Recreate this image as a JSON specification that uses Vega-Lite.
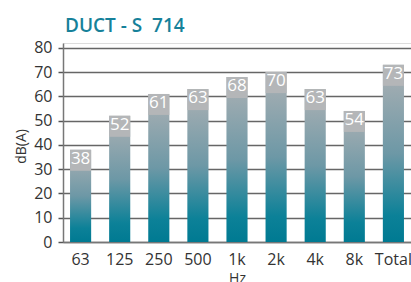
{
  "$schema": "https://vega.github.io/schema/vega-lite/v6.json",
  "autosize": "none",
  "width": 348,
  "height": 199,
  "padding": {"left": 63, "top": 43, "right": 0, "bottom": 40},
  "background": "white",
  "title": {
    "text": "DUCT - S\u00a0\u00a0714",
    "anchor": "start",
    "frame": "group",
    "dx": 2,
    "offset": 15,
    "dy": 26,
    "baseline": "alphabetic",
    "font": "Open Sans",
    "fontSize": 19,
    "fontWeight": 600,
    "color": "#16819a"
  },
  "data": {
    "values": [
      {"band": "63", "db": 38},
      {"band": "125", "db": 52},
      {"band": "250", "db": 61},
      {"band": "500", "db": 63},
      {"band": "1k", "db": 68},
      {"band": "2k", "db": 70},
      {"band": "4k", "db": 63},
      {"band": "8k", "db": 54},
      {"band": "Total", "db": 73}
    ]
  },
  "encoding": {
    "x": {
      "field": "band",
      "type": "nominal",
      "sort": null,
      "scale": {"paddingInner": 0.46, "paddingOuter": 0.18},
      "axis": {
        "title": "Hz",
        "labelAngle": 0,
        "labelFont": "Open Sans",
        "labelFontSize": 16,
        "labelColor": "#333333",
        "labelPadding": 9,
        "titleFont": "Open Sans",
        "titleFontSize": 14,
        "titleFontWeight": "normal",
        "titleColor": "#333333",
        "titlePadding": 4,
        "ticks": false,
        "domainColor": "#777777",
        "domainWidth": 1.5,
        "grid": false
      }
    },
    "y": {
      "field": "db",
      "type": "quantitative",
      "scale": {"domain": [0, 82], "nice": false},
      "axis": {
        "title": "dB(A)",
        "values": [0, 10, 20, 30, 40, 50, 60, 70, 80],
        "labelFont": "Open Sans",
        "labelFontSize": 16,
        "labelColor": "#333333",
        "labelPadding": 6,
        "tickSize": 5,
        "tickColor": "#555555",
        "tickWidth": 1.5,
        "domainColor": "#777777",
        "domainWidth": 1.5,
        "grid": true,
        "gridColor": "#666666",
        "gridWidth": 1.5,
        "titleFont": "Open Sans",
        "titleFontSize": 14,
        "titleFontWeight": "normal",
        "titleColor": "#333333",
        "titleX": -35,
        "titleY": 103,
        "titleBaseline": "bottom"
      }
    }
  },
  "layer": [
    {
      "mark": {
        "type": "bar",
        "color": {
          "gradient": "linear",
          "x1": 0, "y1": 0, "x2": 0, "y2": 1,
          "stops": [
            {"offset": 0, "color": "#adb1b4"},
            {"offset": 0.5, "color": "#6d98a6"},
            {"offset": 0.85, "color": "#0c8198"},
            {"offset": 1, "color": "#007a92"}
          ]
        }
      }
    },
    {
      "mark": {"type": "tick", "color": "#b4b6b8", "thickness": 21, "size": 21, "yOffset": 10.5, "opacity": 1}
    },
    {
      "mark": {"type": "text", "color": "white", "font": "Open Sans", "fontSize": 17, "baseline": "top", "dy": 1},
      "encoding": {"text": {"field": "db", "type": "quantitative"}}
    }
  ]
}
